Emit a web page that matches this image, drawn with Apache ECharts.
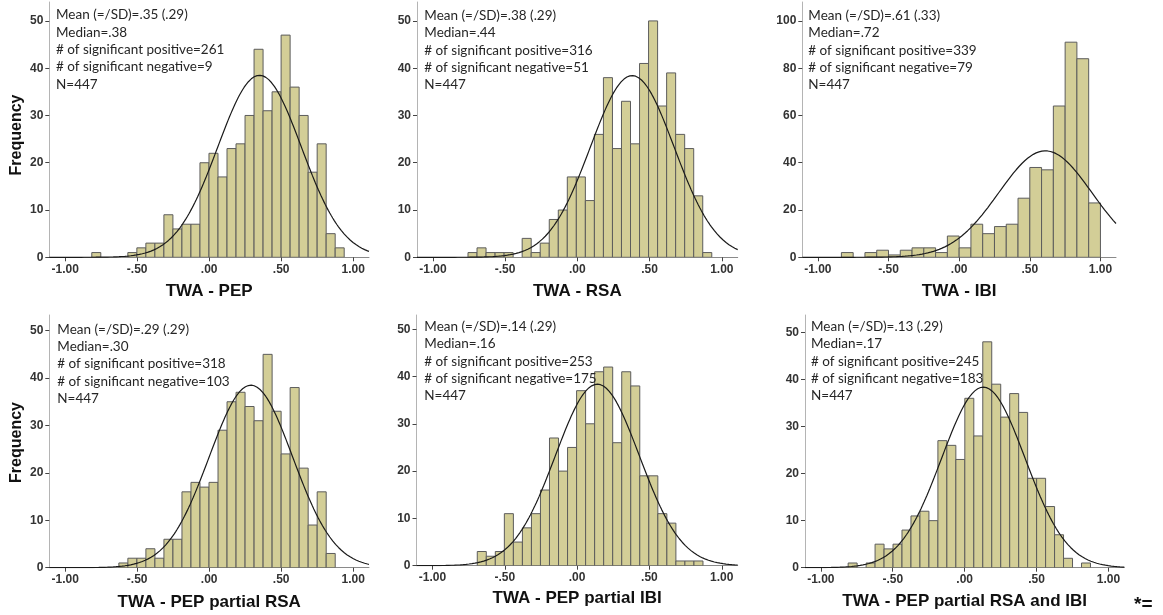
<!DOCTYPE html>
<html>
<head>
<meta charset="utf-8">
<script src="https://cdn.jsdelivr.net/npm/echarts@6/dist/echarts.min.js"></script>
<style>
  html, body { margin: 0; padding: 0; background: #ffffff; }
  #chart { width: 1163px; height: 615px; }
</style>
</head>
<body>
<div id="chart"></div>
<script>
// ---- data ----
const panelTitles = [
  'TWA - PEP', 'TWA - RSA', 'TWA - IBI',
  'TWA - PEP partial RSA', 'TWA - PEP partial IBI', 'TWA - PEP partial RSA and IBI'
];

// histogram bins: lower edge of the first bin, bin width, counts per bin
const binStarts = [-0.815, -0.757, -0.8333, -0.627, -0.690, -0.810];
const binWidths = [0.0626, 0.0625, 0.08333, 0.0626, 0.0624, 0.0624];

const countsPEP      = [1,0,0,0,1,2,3,3,9,6,7,7,20,22,17,23,24,30,44,31,35,47,36,30,18,24,5,2];
const countsRSA      = [1,2,1,1,1,0,4,1,3,8,10,17,17,12,26,38,23,33,24,41,50,32,39,26,23,13,1];
const countsIBI      = [2,0,2,3,1,3,4,4,2,9,4,14,10,13,14,25,38,37,64,91,84,23];
const countsPartRSA  = [1,2,2,4,2,6,6,16,18,17,18,29,35,37,34,31,45,33,24,38,21,9,16,3];
const countsPartIBI  = [3,2,3,11,5,8,11,16,27,20,25,37,30,41,42,26,41,38,19,19,11,9,1,1,1];
const countsPartBoth = [1,0,1,5,4,5,8,11,12,10,27,26,23,36,28,48,39,32,37,33,19,19,13,7,2,0,1];

// summary statistics per panel
const means       = [0.35, 0.38, 0.61, 0.29, 0.14, 0.13];
const sds         = [0.29, 0.29, 0.33, 0.29, 0.29, 0.29];
const medians     = [0.38, 0.44, 0.72, 0.30, 0.16, 0.17];
const sigPositive = [261, 316, 339, 318, 253, 245];
const sigNegative = [9, 51, 79, 103, 175, 183];
const sampleSizes = [447, 447, 447, 447, 447, 447];

// axis ticks
const xTicks = [-1, -0.5, 0, 0.5, 1];
const xTickLabels = ['-1.00', '-.50', '.00', '.50', '1.00'];
const yTicks50 = [0, 10, 20, 30, 40, 50];
const yTicks100 = [0, 20, 40, 60, 80, 100];

// ---- layout ----
const X_MIN = -1.11, X_MAX = 1.11;
const layout = [
  { left: 49.3,  top: 2,   width: 319.7, height: 255.3, yMax: 54,   yTicks: yTicks50,  tx: 56,    ty: 15,    nameGap: 26 },
  { left: 417,   top: 2,   width: 320.7, height: 255.3, yMax: 54,   yTicks: yTicks50,  tx: 424.3, ty: 15.7,  nameGap: 26 },
  { left: 802.3, top: 2,   width: 313.7, height: 255.3, yMax: 108,  yTicks: yTicks100, tx: 808.3, ty: 15.7,  nameGap: 26 },
  { left: 49.3,  top: 315, width: 319.7, height: 252.7, yMax: 53.3, yTicks: yTicks50,  tx: 57.3,  ty: 329.3, nameGap: 26 },
  { left: 416.5, top: 315, width: 321.2, height: 250.7, yMax: 53,   yTicks: yTicks50,  tx: 424.3, ty: 326.7, nameGap: 24.5 },
  { left: 805,   top: 315, width: 319.3, height: 252.7, yMax: 53.7, yTicks: yTicks50,  tx: 811,   ty: 326.7, nameGap: 25 }
];

const allCounts = [countsPEP, countsRSA, countsIBI, countsPartRSA, countsPartIBI, countsPartBoth];

const BAR_FILL = '#d3ce97';
const BAR_EDGE = '#5c5c5c';
const AXIS_FONT = '"Liberation Sans", Arial, sans-serif';
const NOTE_FONT = 'Lato, "Open Sans", sans-serif';

function fmt2(v) {
  const s = Math.abs(v).toFixed(2).replace(/^0/, '');
  return (v < 0 ? '-' : '') + s;
}

// histogram rows: [lower edge, upper edge, count]
function binRows(i) {
  return allCounts[i].map((c, k) => {
    const lo = binStarts[i] + k * binWidths[i];
    return [lo, lo + binWidths[i], c];
  });
}

// fitted normal curve from the stated mean / SD, scaled to counts per bin
function normalCurve(i) {
  const pts = [];
  const scale = sampleSizes[i] * binWidths[i] / (sds[i] * Math.sqrt(2 * Math.PI));
  const steps = 220;
  for (let k = 0; k <= steps; k++) {
    const x = X_MIN + (X_MAX - X_MIN) * k / steps;
    const z = (x - means[i]) / sds[i];
    pts.push([x, scale * Math.exp(-0.5 * z * z)]);
  }
  return pts;
}

const grids = [], xAxes = [], yAxes = [], series = [], graphics = [];

layout.forEach((L, i) => {
  grids.push({ left: L.left, top: L.top, width: L.width, height: L.height, containLabel: false });

  xAxes.push({
    type: 'value', gridIndex: i, min: X_MIN, max: X_MAX,
    name: panelTitles[i], nameLocation: 'middle', nameGap: L.nameGap,
    nameTextStyle: { fontFamily: AXIS_FONT, fontWeight: 'bold', fontSize: 17, color: '#111' },
    axisLine: { show: true, onZero: false, lineStyle: { color: '#8a8a8a', width: 1 } },
    axisTick: { show: true, length: 4, customValues: xTicks, lineStyle: { color: '#444' } },
    axisLabel: {
      customValues: xTicks, margin: 6,
      fontFamily: AXIS_FONT, fontSize: 12, fontWeight: 'bold', color: '#333',
      formatter: v => xTickLabels[xTicks.findIndex(t => Math.abs(t - v) < 1e-9)] ?? fmt2(v)
    },
    splitLine: { show: false }
  });

  yAxes.push({
    type: 'value', gridIndex: i, min: 0, max: L.yMax,
    axisLine: { show: true, onZero: false, lineStyle: { color: '#b4b4b4', width: 1 } },
    axisTick: { show: true, length: 4, customValues: L.yTicks, lineStyle: { color: '#444' } },
    axisLabel: {
      customValues: L.yTicks, margin: 6,
      fontFamily: AXIS_FONT, fontSize: 12, fontWeight: 'bold', color: '#333'
    },
    splitLine: { show: false }
  });

  series.push({
    type: 'custom', xAxisIndex: i, yAxisIndex: i,
    data: binRows(i),
    encode: { x: [0, 1], y: 2 },
    clip: true,
    renderItem: (params, api) => {
      const c = api.value(2);
      if (!c) return null;
      const p0 = api.coord([api.value(0), c]);
      const p1 = api.coord([api.value(1), 0]);
      return {
        type: 'rect',
        shape: { x: p0[0], y: p0[1], width: p1[0] - p0[0], height: p1[1] - p0[1] },
        style: { fill: BAR_FILL, stroke: BAR_EDGE, lineWidth: 1 }
      };
    },
    z: 2
  });

  series.push({
    type: 'line', xAxisIndex: i, yAxisIndex: i,
    data: normalCurve(i), showSymbol: false, smooth: false, clip: true,
    lineStyle: { color: '#1a1a1a', width: 1.2 },
    z: 3, silent: true
  });

  // statistics block in the upper-left corner of each panel
  const notes = [
    'Mean (=/SD)=' + fmt2(means[i]) + ' (' + fmt2(sds[i]) + ')',
    'Median=' + fmt2(medians[i]),
    '# of significant positive=' + sigPositive[i],
    '# of significant negative=' + sigNegative[i],
    'N=' + sampleSizes[i]
  ];
  notes.forEach((t, k) => {
    graphics.push({
      type: 'text', x: L.tx, y: L.ty + k * 17.35, z: 10,
      style: { text: t, fill: '#262626', font: '13.5px ' + NOTE_FONT, textAlign: 'left', textVerticalAlign: 'middle' }
    });
  });
});

// shared y-axis titles
[[16.7, 135], [16.7, 442.5]].forEach(p => {
  graphics.push({
    type: 'text', x: p[0], y: p[1], rotation: Math.PI / 2, z: 10,
    style: { text: 'Frequency', fill: '#111', font: 'bold 16px ' + AXIS_FONT, textAlign: 'center', textVerticalAlign: 'middle' }
  });
});

graphics.push({
  type: 'text', x: 1134, y: 605, z: 10,
  style: { text: '*=', fill: '#111', font: 'bold 19px ' + AXIS_FONT, textAlign: 'left', textVerticalAlign: 'middle' }
});

const chart = echarts.init(document.getElementById('chart'), null, { renderer: 'canvas' });
chart.setOption({
  animation: false,
  backgroundColor: '#ffffff',
  grid: grids,
  xAxis: xAxes,
  yAxis: yAxes,
  series: series,
  graphic: graphics
});
</script>
</body>
</html>
